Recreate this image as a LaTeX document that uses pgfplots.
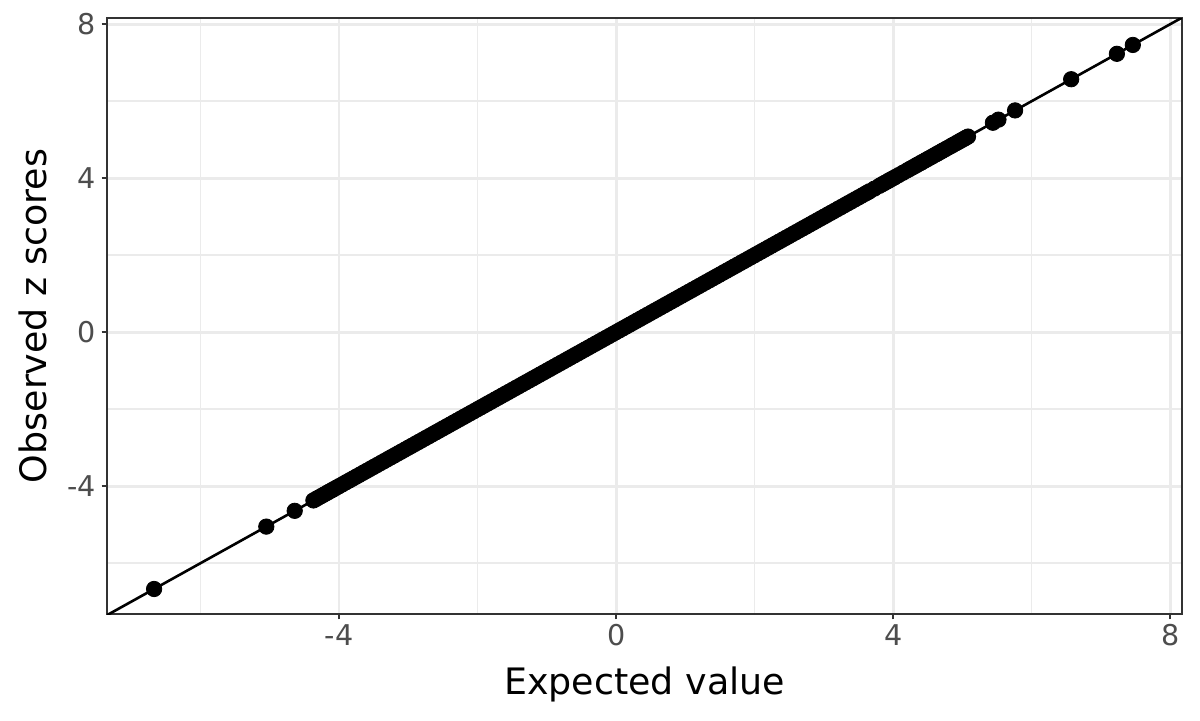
\documentclass[border=0pt]{standalone}
\usepackage{fontspec}
\setmainfont{DejaVu Sans}
\usepackage{pgfplots}
\pgfplotsset{compat=1.18}
\definecolor{gridmaj}{HTML}{EBEBEB}
\definecolor{ticklab}{HTML}{4D4D4D}
\definecolor{border}{HTML}{333333}
\begin{document}
\begin{tikzpicture}
\useasboundingbox (0,0) rectangle (600pt,360pt);
\begin{axis}[
  at={(53.5pt,53pt)}, anchor=south west,
  scale only axis, width=537.5pt, height=298pt,
  xmin=-7.35, xmax=8.17, ymin=-7.32, ymax=8.16,
  xtick={-4,0,4,8}, xticklabels={-4,0,4,8},
  ytick={-4,0,4,8}, yticklabels={-4,0,4,8},
  minor xtick={-6,-2,2,6}, minor ytick={-6,-2,2,6},
  grid=both,
  major grid style={gridmaj, line width=1.4pt},
  minor grid style={gridmaj, line width=0.7pt},
  axis line style={border, line width=0.75pt},
  tick align=outside,
  xtick pos=left, ytick pos=left,
  major tick length=2.7pt,
  minor tick length=0pt,
  tick style={border, line width=0.75pt},
  ticklabel style={ticklab, font=\fontsize{14.3}{15}\selectfont},
  xticklabel style={yshift=1pt},
  yticklabel style={xshift=0.5pt},
  xlabel={Expected value}, ylabel={Observed z scores},
  label style={font=\fontsize{18.2}{20}\selectfont},
  xlabel style={at={(axis description cs:0.5,-0.118)}, anchor=center},
  ylabel style={at={(axis description cs:-0.0688,0.5)}, anchor=center},
]
\addplot[black, line width=1.3pt] coordinates {(-7.6,-7.6) (8.4,8.4)};
\addplot[only marks, mark=*, mark size=3.85pt, black] coordinates {
(-6.67,-6.67) (-5.05,-5.05) (-4.64,-4.64)
(-4.37,-4.37) (-4.33,-4.33) (-4.30,-4.30) (-4.26,-4.26) (-4.22,-4.22) (-4.18,-4.18)
(-4.15,-4.15) (-4.11,-4.11) (-4.08,-4.08) (-4.04,-4.04)
(-4.0,-4.0) (-3.95,-3.95) (-3.9,-3.9) (-3.85,-3.85) (-3.8,-3.8) (-3.75,-3.75)
(-3.7,-3.7) (-3.65,-3.65) (-3.6,-3.6) (-3.55,-3.55) (-3.5,-3.5) (-3.45,-3.45)
(-3.4,-3.4) (-3.35,-3.35) (-3.3,-3.3) (-3.25,-3.25) (-3.2,-3.2) (-3.15,-3.15)
(-3.1,-3.1) (-3.05,-3.05) (-3.0,-3.0) (-2.95,-2.95) (-2.9,-2.9) (-2.85,-2.85)
(-2.8,-2.8) (-2.75,-2.75) (-2.7,-2.7) (-2.65,-2.65) (-2.6,-2.6) (-2.55,-2.55)
(-2.5,-2.5) (-2.45,-2.45) (-2.4,-2.4) (-2.35,-2.35) (-2.3,-2.3) (-2.25,-2.25)
(-2.2,-2.2) (-2.15,-2.15) (-2.1,-2.1) (-2.05,-2.05) (-2.0,-2.0) (-1.95,-1.95)
(-1.9,-1.9) (-1.85,-1.85) (-1.8,-1.8) (-1.75,-1.75) (-1.7,-1.7) (-1.65,-1.65)
(-1.6,-1.6) (-1.55,-1.55) (-1.5,-1.5) (-1.45,-1.45) (-1.4,-1.4) (-1.35,-1.35)
(-1.3,-1.3) (-1.25,-1.25) (-1.2,-1.2) (-1.15,-1.15) (-1.1,-1.1) (-1.05,-1.05)
(-1.0,-1.0) (-0.95,-0.95) (-0.9,-0.9) (-0.85,-0.85) (-0.8,-0.8) (-0.75,-0.75)
(-0.7,-0.7) (-0.65,-0.65) (-0.6,-0.6) (-0.55,-0.55) (-0.5,-0.5) (-0.45,-0.45)
(-0.4,-0.4) (-0.35,-0.35) (-0.3,-0.3) (-0.25,-0.25) (-0.2,-0.2) (-0.15,-0.15)
(-0.1,-0.1) (-0.05,-0.05) (0.0,0.0) (0.05,0.05) (0.1,0.1) (0.15,0.15)
(0.2,0.2) (0.25,0.25) (0.3,0.3) (0.35,0.35) (0.4,0.4) (0.45,0.45)
(0.5,0.5) (0.55,0.55) (0.6,0.6) (0.65,0.65) (0.7,0.7) (0.75,0.75)
(0.8,0.8) (0.85,0.85) (0.9,0.9) (0.95,0.95) (1.0,1.0) (1.05,1.05)
(1.1,1.1) (1.15,1.15) (1.2,1.2) (1.25,1.25) (1.3,1.3) (1.35,1.35)
(1.4,1.4) (1.45,1.45) (1.5,1.5) (1.55,1.55) (1.6,1.6) (1.65,1.65)
(1.7,1.7) (1.75,1.75) (1.8,1.8) (1.85,1.85) (1.9,1.9) (1.95,1.95)
(2.0,2.0) (2.05,2.05) (2.1,2.1) (2.15,2.15) (2.2,2.2) (2.25,2.25)
(2.3,2.3) (2.35,2.35) (2.4,2.4) (2.45,2.45) (2.5,2.5) (2.55,2.55)
(2.6,2.6) (2.65,2.65) (2.7,2.7) (2.75,2.75) (2.8,2.8) (2.85,2.85)
(2.9,2.9) (2.95,2.95) (3.0,3.0) (3.05,3.05) (3.1,3.1) (3.15,3.15)
(3.2,3.2) (3.25,3.25) (3.3,3.3) (3.35,3.35) (3.4,3.4) (3.45,3.45)
(3.5,3.5) (3.55,3.55) (3.6,3.6) (3.63,3.63) (3.66,3.66) (3.73,3.73)
(3.80,3.80) (3.84,3.84) (3.88,3.88) (3.92,3.92) (3.95,3.95) (3.99,3.99) (4.03,4.03) (4.08,4.08)
(4.14,4.14) (4.20,4.20) (4.24,4.24) (4.28,4.28) (4.32,4.32) (4.35,4.35) (4.39,4.39) (4.42,4.42)
(4.46,4.46) (4.50,4.50) (4.54,4.54) (4.58,4.58) (4.62,4.62) (4.65,4.65) (4.69,4.69)
(4.72,4.72) (4.76,4.76) (4.80,4.80) (4.84,4.84) (4.87,4.87) (4.91,4.91) (4.94,4.94)
(4.97,4.97) (5.00,5.00) (5.03,5.03) (5.05,5.05) (5.08,5.08)
(5.44,5.44) (5.52,5.52) (5.76,5.76) (6.57,6.57) (7.23,7.23) (7.46,7.46)
};
\end{axis}
\end{tikzpicture}
\end{document}
